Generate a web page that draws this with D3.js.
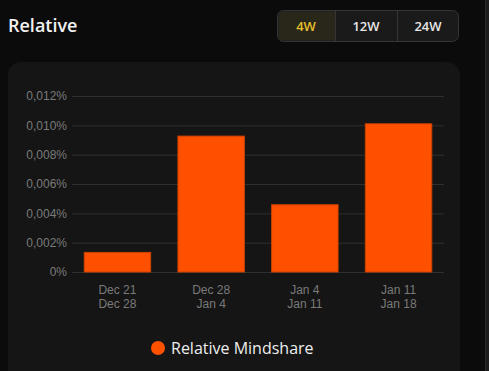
<!DOCTYPE html>
<html><head><meta charset="utf-8">
<script src="https://cdn.jsdelivr.net/npm/d3@7"></script>
<style>
html,body{margin:0;padding:0;background:#0b0b0b;overflow:hidden;}
svg{display:block;}
</style></head>
<body><div id="chart"></div>
<script>
var weeksFrom=["Dec 21","Dec 28","Jan 4","Jan 11"];
var weeksTo=["Dec 28","Jan 4","Jan 11","Jan 18"];
var mindshare=[0.00137,0.0093,0.00462,0.01014]; // percent
var yTicks=[0,0.002,0.004,0.006,0.008,0.010,0.012];
var ranges=["4W","12W","24W"];
var seriesName="Relative Mindshare";

var W=489,H=371;
var svg=d3.select("#chart").append("svg").attr("width",W).attr("height",H);
svg.append("rect").attr("width",W).attr("height",H).attr("fill","#0b0b0b");
// scrollbar strip on the right
svg.append("rect").attr("x",485).attr("y",0).attr("width",4).attr("height",H).attr("fill","#1c1c1c");
svg.append("line").attr("x1",485.5).attr("x2",485.5).attr("y1",0).attr("y2",H).attr("stroke","#2a2a2a");

svg.append("text").attr("x",8).attr("y",32).attr("fill","#f2f2f2")
    .style("font-family","'Open Sans',sans-serif").style("font-weight",600).style("font-size","18px").text("Relative");

// range buttons
var bx=[277,335,397,459];
var bg=svg.append("g");
bg.append("rect").attr("x",277.5).attr("y",10.5).attr("width",181).attr("height",31).attr("rx",6)
    .attr("fill","#1a1a1a").attr("stroke","#353535");
bg.append("path").attr("d","M283.5,11.5 H335 V40.5 H283.5 A5,5 0 0 1 278.5,35.5 V16.5 A5,5 0 0 1 283.5,11.5 Z").attr("fill","#29261a");
[335,397].forEach(function(x){bg.append("line").attr("x1",x+0.5).attr("x2",x+0.5).attr("y1",11).attr("y2",41).attr("stroke","#353535");});
ranges.forEach(function(r,i){
    bg.append("text").attr("x",(bx[i]+bx[i+1])/2).attr("y",30.5).attr("text-anchor","middle")
        .attr("fill",i===0?"#e3bf2b":"#e6e6e6").style("font-family","'Open Sans',sans-serif")
        .style("font-weight",600).style("font-size","13px").text(r);
});

// panel
svg.append("rect").attr("x",8).attr("y",62).attr("width",452).attr("height",340).attr("rx",13).attr("fill","#151515");

var m={left:72,right:45,top:96,bottom:99};
var width=W-m.left-m.right, height=H-m.top-m.bottom;
var g=svg.append("g").attr("transform","translate("+m.left+","+m.top+")");
var x=d3.scaleBand().domain(weeksFrom).range([0,width]).paddingInner(0.28).paddingOuter(0.125);
var y=d3.scaleLinear().domain([0,0.012]).range([height,0]);
var loc=d3.formatLocale({decimal:",",thousands:".",grouping:[3],currency:["","%"]});
var fmt=function(d){return d===0?"0%":loc.format(".3f")(d)+"%";};

g.append("g").call(d3.axisLeft(y).tickValues(yTicks).tickSize(-width).tickFormat(fmt))
    .call(function(s){
        s.select(".domain").remove();
        s.selectAll(".tick line").attr("stroke","#2f2f2f");
        s.selectAll(".tick text").attr("x",-5).attr("fill","#7a7a7a")
            .style("font-family","'Liberation Sans',Arial,sans-serif").style("font-size","12px");
    });

g.selectAll("rect.bar").data(mindshare).enter().append("rect").attr("class","bar")
    .attr("x",function(d,i){return x(weeksFrom[i])+0.5;}).attr("width",x.bandwidth()-1)
    .attr("y",function(d){return y(d)+0.5;}).attr("height",function(d){return height-y(d)-0.5;})
    .attr("fill","#ff5000").attr("stroke","#c84200").attr("stroke-width",1);

var xl=g.append("g").attr("transform","translate(0,"+height+")");
weeksFrom.forEach(function(w,i){
    var t=xl.append("text").attr("x",x(w)+x.bandwidth()/2).attr("text-anchor","middle").attr("fill","#7a7a7a")
        .style("font-family","'Liberation Sans',Arial,sans-serif").style("font-size","12px");
    t.append("tspan").attr("x",x(w)+x.bandwidth()/2).attr("y",22).text(w);
    t.append("tspan").attr("x",x(w)+x.bandwidth()/2).attr("y",36).text(weeksTo[i]);
});

var lg=svg.append("g").attr("transform","translate(158,348)");
lg.append("circle").attr("r",7).attr("fill","#ff5000");
lg.append("text").attr("x",13).attr("y",5.5).attr("fill","#eeeeee")
    .style("font-family","'Open Sans',sans-serif").style("font-weight",500).style("font-size","16px").text(seriesName);
</script></body></html>
